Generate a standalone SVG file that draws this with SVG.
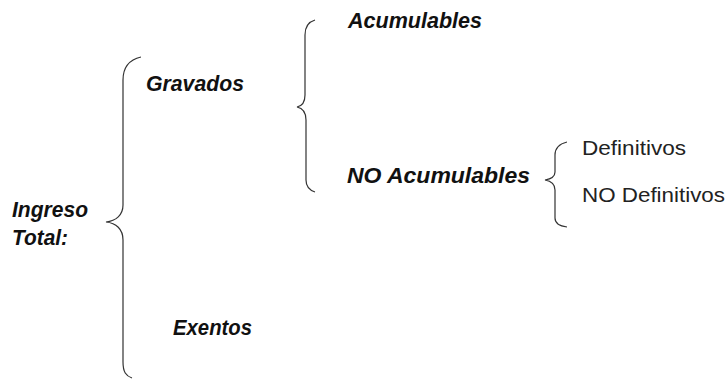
<svg xmlns="http://www.w3.org/2000/svg" width="726" height="379" viewBox="0 0 726 379">
<style>
.bi{font-family:"Liberation Sans",Arial,sans-serif;font-weight:bold;font-style:italic;font-size:22.5px;fill:#111}
.r{font-family:"Liberation Sans",Arial,sans-serif;font-size:21px;fill:#222}
.br{fill:none;stroke:#333;stroke-width:1.2}
</style>
<rect width="726" height="379" fill="#fff"/>
<g id="connectors">
<path class="br" d="M141,57 C128,60 123,68 123,80 L123,205 C123,215 116,221 106,222 C116,223 123,229 123,240 L123,362 C123,372 126,376 132,378"/>
<path class="br" d="M315,20 C308,22 305,27 305,35 L305,95 C305,102 302,106 297,107 C302,108 306,112 306,120 L306,180 C306,186 309,190 315,192"/>
<path class="br" d="M567,142 C559,144 555,148 555,155 L555,172 C555,177 551,179 545,180 C551,181 555,184 555,190 L555,218 C555,223 559,226 567,227"/>
</g>
<g id="ingreso-total">
<text class="bi" x="12" y="217" textLength="76" lengthAdjust="spacingAndGlyphs">Ingreso</text>
<text class="bi" x="12" y="245" textLength="56" lengthAdjust="spacingAndGlyphs">Total:</text>
</g>
<g id="gravados"><text class="bi" x="146" y="91" textLength="98" lengthAdjust="spacingAndGlyphs">Gravados</text></g>
<g id="exentos"><text class="bi" x="173" y="335" textLength="79" lengthAdjust="spacingAndGlyphs">Exentos</text></g>
<g id="acumulables"><text class="bi" x="348" y="28" textLength="134" lengthAdjust="spacingAndGlyphs">Acumulables</text></g>
<g id="no-acumulables"><text class="bi" x="347" y="183" textLength="183" lengthAdjust="spacingAndGlyphs">NO Acumulables</text></g>
<g id="definitivos"><text class="r" x="582" y="155" textLength="104" lengthAdjust="spacingAndGlyphs">Definitivos</text></g>
<g id="no-definitivos"><text class="r" x="582" y="202" textLength="143" lengthAdjust="spacingAndGlyphs">NO Definitivos</text></g>
</svg>
